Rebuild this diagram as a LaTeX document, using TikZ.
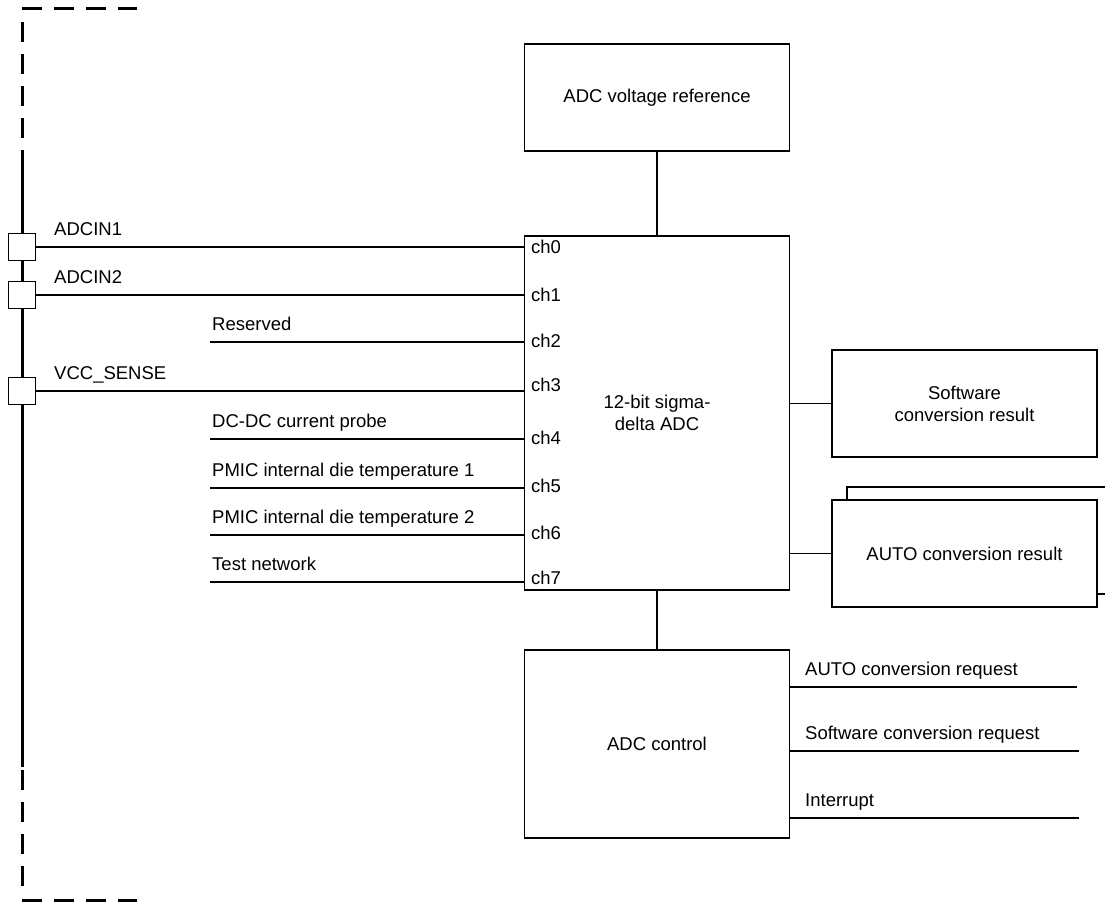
\documentclass[tikz,border=0pt]{standalone}
\usepackage{fontspec}
\setmainfont{Liberation Sans}
\usetikzlibrary{positioning, calc}

\begin{document}
\begin{tikzpicture}[x=1pt, y=-1pt,
    every node/.style={font=\fontsize{18.5}{22}\selectfont},
    block/.style={rectangle, draw, line width=1.4pt, fill=white,
                  minimum width=265pt, align=center, inner sep=0pt},
    padbox/.style={rectangle, draw, line width=1.4pt, fill=white,
                   minimum size=27pt, inner sep=0pt},
    sig/.style={line width=1.4pt},
    chlab/.style={anchor=west, inner sep=0pt},
    siglab/.style={anchor=base west, inner sep=0pt},
    frame/.style={line width=3pt, dash pattern=on 20pt off 12pt}
]
\clip (0,0) rectangle (1105,902);

% chip edge
\draw[frame] (22,8) -- (137,8);
\draw[frame] (22,22) -- (22,150);
\draw[line width=3pt] (22,150) -- (22,767);
\draw[frame] (22,770) -- (22,890);
\draw[frame] (22,900) -- (137,900);

% blocks
\node[block, minimum height=107pt] (vref) at (657,97.5) {ADC voltage reference};
\node[block, minimum height=354pt] (adc) at (657,413) {12-bit sigma-\\delta ADC};
\node[block, minimum height=107pt] (swres) at (964.5,403.5) {Software\\ conversion result};
\node[block, minimum height=107pt] (autoback) at (979.5,540.5) {};
\node[block, minimum height=107pt] (autores) at (964.5,553.5) {AUTO conversion result};
\node[block, minimum height=188pt] (ctrl) at (657,744) {ADC control};

\draw[sig] (vref) -- (adc);
\draw[sig] (adc) -- (ctrl);
\draw[sig] (adc.east |- swres.west) -- (swres.west);
\draw[sig] (adc.east |- autores.west) -- (autores.west);

% pads
\node[padbox] (pad1) at (22,247) {};
\node[padbox] (pad2) at (22,295) {};
\node[padbox] (pad3) at (22,391) {};
\node[siglab] (lpad1) at (54,235) {ADCIN1};
\node[siglab] (lpad2) at (54,283) {ADCIN2};
\node[siglab] (lpad3) at (54,379) {VCC\_SENSE};
\draw[sig] (pad1) -- (pad1 -| adc.west);
\draw[sig] (pad2) -- (pad2 -| adc.west);
\draw[sig] (pad3) -- (pad3 -| adc.west);

% internal inputs
\coordinate (in2) at (210,342);
\coordinate (in4) at (210,439);
\coordinate (in5) at (210,488);
\coordinate (in6) at (210,535);
\coordinate (in7) at (210,582);
\node[siglab] (lin2) at (212,330) {Reserved};
\node[siglab] (lin4) at (212,427) {DC-DC current probe};
\node[siglab] (lin5) at (212,476) {PMIC internal die temperature 1};
\node[siglab] (lin6) at (212,523) {PMIC internal die temperature 2};
\node[siglab] (lin7) at (212,570) {Test network};
\draw[sig] (in2) -- (in2 -| adc.west);
\draw[sig] (in4) -- (in4 -| adc.west);
\draw[sig] (in5) -- (in5 -| adc.west);
\draw[sig] (in6) -- (in6 -| adc.west);
\draw[sig] (in7) -- (in7 -| adc.west);

% channel names
\node[chlab] (ch0) at (531,247) {ch0};
\node[chlab] (ch1) at (531,295) {ch1};
\node[chlab] (ch2) at (531,341) {ch2};
\node[chlab] (ch3) at (531,385) {ch3};
\node[chlab] (ch4) at (531,438) {ch4};
\node[chlab] (ch5) at (531,486) {ch5};
\node[chlab] (ch6) at (531,533) {ch6};
\node[chlab] (ch7) at (531,578) {ch7};

% control outputs
\coordinate (out1) at (1077,687);
\coordinate (out2) at (1079,751);
\coordinate (out3) at (1079,818);
\node[siglab] (lout1) at (805,675) {AUTO conversion request};
\node[siglab] (lout2) at (805,739) {Software conversion request};
\node[siglab] (lout3) at (805,806) {Interrupt};
\draw[sig] (out1 -| ctrl.east) -- (out1);
\draw[sig] (out2 -| ctrl.east) -- (out2);
\draw[sig] (out3 -| ctrl.east) -- (out3);
\end{tikzpicture}
\end{document}
